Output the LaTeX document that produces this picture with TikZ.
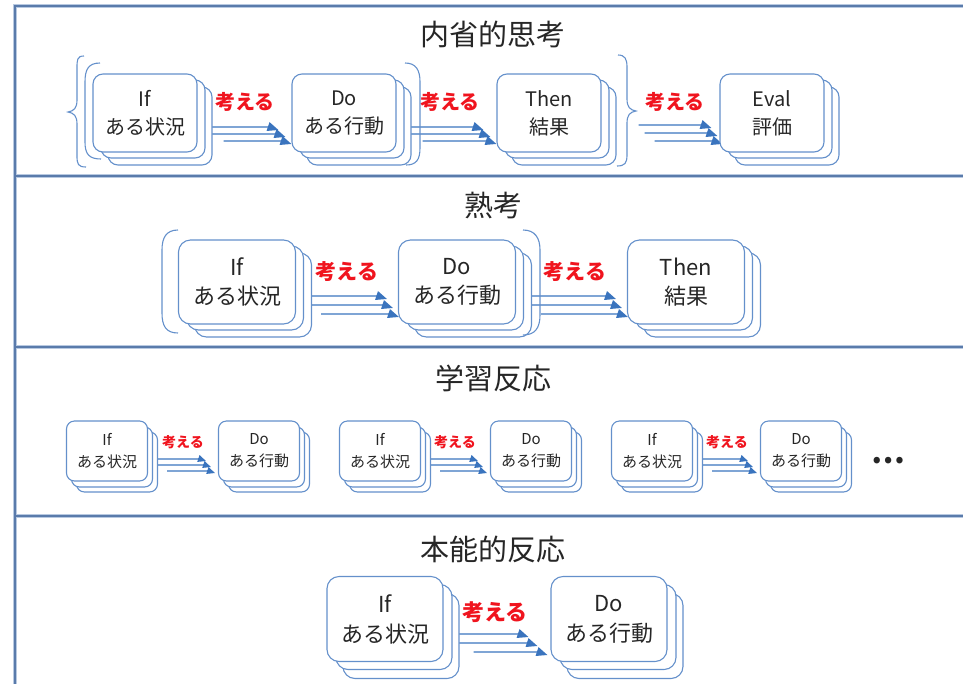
\documentclass[tikz,border=0pt]{standalone}
\usepackage{fontspec}
\setmainfont{Noto Sans CJK JP}
\usetikzlibrary{arrows.meta,calc}
\pgfdeclarelayer{bg}
\pgfsetlayers{bg,main}
\definecolor{boxblue}{HTML}{6490CB}
\definecolor{arrblue}{HTML}{3A74BE}
\definecolor{frdark}{HTML}{5A7BAB}
\definecolor{frlight}{HTML}{B8C9E1}
\definecolor{txt}{HTML}{262626}
\definecolor{kred}{HTML}{F0141E}
\newcommand\stk[5]{%
  \node[bx] (#1-b2) at ({#2+\oxb},{#3+\oyb}) {};
  \node[bx] (#1-b1) at ({#2+\oxa},{#3+\oya}) {};
  \node[bx,btxt] (#1) at (#2,#3) {#4\\#5};}
\newcommand\threearr[3]{%
  \begin{pgfonlayer}{bg}
  \foreach \s/\d/\e in {#3} {
    \draw[arw] ([xshift=\s pt,yshift=-\d pt]#1.east) -- ([xshift=\e pt-\kx pt,yshift=-\d pt]#2.west) -- ([xshift=\e pt,yshift=-\d pt-\ky pt]#2.west);}
  \end{pgfonlayer}}
\begin{document}
\begin{tikzpicture}[x=1pt,y=-1pt,
  bx/.style={draw=boxblue,line width=1.1pt,fill=white,inner sep=0pt,align=center,text=txt},
  ttl/.style={font=\fontsize{29}{29}\selectfont,text=txt},
  brk/.style={draw=boxblue,line width=1.1pt},
  frl/.style={draw=frlight,line width=4.5pt},
  frd/.style={draw=frdark,line width=2pt}]
\useasboundingbox (0,0) rectangle (963,683);
% frame
\foreach \st in {frl,frd}{
  \draw[\st] (15,690) -- (15,6) -- (970,6);
  \draw[\st] (15,176) -- (970,176);
  \draw[\st] (15,347) -- (970,347);
  \draw[\st] (15,516) -- (970,516);}
% titles
\node[ttl] (t1) at (493,34) {内省的思考};
\node[ttl] (t2) at (493,206) {熟考};
\node[ttl] (t3) at (493,378) {学習反応};
\node[ttl] (t4) at (493,549) {本能的反応};
% ---------- section 1
\begin{scope}[bx/.append style={minimum width=104pt,minimum height=78pt,rounded corners=10pt},
  btxt/.style={font=\fontsize{20}{28}\selectfont,yshift=-2pt},
  lbl/.style={text=kred,font=\bfseries\fontsize{20}{20}\selectfont},
  arw/.style={draw=arrblue,line width=1.3pt,-{Triangle[length=11pt,width=9pt]}}]
\def\kx{9}\def\ky{3}
\def\oxa{8}\def\oya{8}\def\oxb{15}\def\oyb{15}
\stk{if1}{145}{111}{If}{ある状況}
\stk{do1}{344}{111}{Do}{ある行動}
\stk{th1}{549}{111}{Then}{結果}
\stk{ev1}{772}{111}{Eval}{評価}
\threearr{if1}{do1}{0/14/-13, 0/21/-6, 26/28/0}
\threearr{do1}{th1}{0/14/-13, 0/21/-6, 26/28/0}
\threearr{th1}{ev1}{37/12/-8, 43/20/-2, 53/28/3}
\node[lbl] (k1a) at (245,102) {考える};
\node[lbl] (k1b) at (450,102) {考える};
\node[lbl] (k1c) at (675,102) {考える};
\draw[brk] (84,56) .. controls (77,56) and (77,60) .. (77,68) -- (77,100) .. controls (77,108) and (74,111) .. (68,112) .. controls (74,113) and (77,116) .. (77,124) -- (77,156) .. controls (77,164) and (78,167) .. (86,167);
\draw[brk] (100,63) .. controls (88,63) and (85,70) .. (85,82) -- (85,142) .. controls (85,154) and (89,159) .. (101,159);
\draw[brk] (405,63) .. controls (416,63) and (420,70) .. (420,82) -- (420,148) .. controls (420,160) and (416,165) .. (406,165);
\draw[brk] (618,55) .. controls (625,55) and (627,59) .. (627,67) -- (627,99) .. controls (627,107) and (630,110) .. (636,111) .. controls (630,112) and (627,115) .. (627,123) -- (627,155) .. controls (627,163) and (625,166) .. (617,166);
\end{scope}
% ---------- section 2
\begin{scope}[bx/.append style={minimum width=117pt,minimum height=84pt,rounded corners=12pt},
  btxt/.style={font=\fontsize{22}{29}\selectfont,yshift=-2pt},
  lbl/.style={text=kred,font=\bfseries\fontsize{21}{21}\selectfont},
  arw/.style={draw=arrblue,line width=1.3pt,-{Triangle[length=11pt,width=9pt]}}]
\def\kx{9}\def\ky{3}
\def\oxa{8}\def\oya{8}\def\oxb{16}\def\oyb{15}
\stk{if2}{237}{280}{If}{ある状況}
\stk{do2}{457}{280}{Do}{ある行動}
\stk{th2}{686}{280}{Then}{結果}
\threearr{if2}{do2}{0/14/-11, 0/23/-5, 25/32/1}
\threearr{do2}{th2}{0/14/-11, 0/23/-5, 25/32/1}
\node[lbl] (k2a) at (347,272) {考える};
\node[lbl] (k2b) at (575,272) {考える};
\draw[brk] (178,230) .. controls (166,230) and (162,238) .. (162,250) -- (162,313) .. controls (162,326) and (166,333) .. (178,333);
\draw[brk] (523,230) .. controls (535,230) and (540,238) .. (540,250) -- (540,315) .. controls (540,328) and (535,335) .. (523,335);
\end{scope}
% ---------- section 3
\begin{scope}[bx/.append style={minimum width=81pt,minimum height=60pt,rounded corners=8pt},
  btxt/.style={font=\fontsize{15}{22}\selectfont,yshift=-1pt},
  lbl/.style={text=kred,font=\bfseries\fontsize{14}{14}\selectfont},
  arw/.style={draw=arrblue,line width=1.1pt,-{Triangle[length=8pt,width=7pt]}}]
\def\kx{6}\def\ky{2}
\def\oxa{5}\def\oya{7}\def\oxb{10}\def\oyb{12}
\stk{if3a}{107}{450}{If}{ある状況}
\stk{do3a}{259}{450}{Do}{ある行動}
\stk{if3b}{380}{450}{If}{ある状況}
\stk{do3b}{531}{450}{Do}{ある行動}
\stk{if3c}{652}{450}{If}{ある状況}
\stk{do3c}{801}{450}{Do}{ある行動}
\threearr{if3a}{do3a}{0/8/-12, 0/14/-7, 19/20/-3}
\threearr{if3b}{do3b}{0/8/-12, 0/14/-7, 19/20/-3}
\threearr{if3c}{do3c}{0/8/-12, 0/14/-7, 19/20/-3}
\node[lbl] (k3a) at (183,442) {考える};
\node[lbl] (k3b) at (455,442) {考える};
\node[lbl] (k3c) at (727,442) {考える};
\node[text=txt,font=\bfseries\fontsize{30}{30}\selectfont] (dots) at (888,461) {…};
\end{scope}
% ---------- section 4
\begin{scope}[bx/.append style={minimum width=116pt,minimum height=85pt,rounded corners=12pt},
  btxt/.style={font=\fontsize{22}{30}\selectfont,yshift=-2pt},
  lbl/.style={text=kred,font=\bfseries\fontsize{22}{22}\selectfont},
  arw/.style={draw=arrblue,line width=1.3pt,-{Triangle[length=11pt,width=9pt]}}]
\def\kx{9}\def\ky{3}
\def\oxa{9}\def\oya{10}\def\oxb{16}\def\oyb{19}
\stk{if4}{385}{617}{If}{ある状況}
\stk{do4}{609}{617}{Do}{ある行動}
\threearr{if4}{do4}{0/15/-22, 0/24/-13, 30/33/-3}
\node[lbl] (k4) at (495,612) {考える};
\end{scope}
\end{tikzpicture}
\end{document}
